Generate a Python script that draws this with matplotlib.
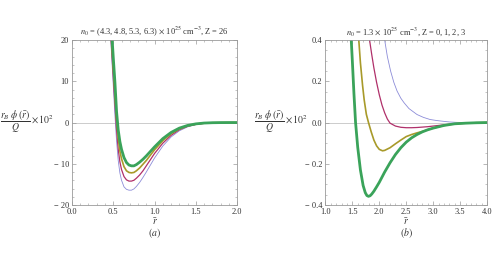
import matplotlib
matplotlib.use("Agg")
import matplotlib.pyplot as plt
from matplotlib.ticker import MultipleLocator
import numpy as np

# panel (a): n0 = 4.3, 4.8, 5.3, 6.3 (x 10^25 cm^-3), Z = 26
r_a = [0.47, 0.48, 0.49, 0.50, 0.52, 0.54, 0.56, 0.58, 0.60, 0.63, 0.66, 0.69,
       0.72, 0.75, 0.78, 0.82, 0.86, 0.90, 0.95, 1.0, 1.1, 1.2, 1.3, 1.4, 1.5,
       1.6, 1.7, 1.8, 1.9, 2.0]
phi_a_blue = [20, 16.3, 12.7, 9.0, 1.8, -4.5, -9.2, -12.2, -14.0, -15.6, -16.2, -16.4,
              -16.4, -16.1, -15.5, -14.5, -13.3, -12.0, -10.3, -8.6, -5.7, -3.5, -2.0, -1.05, -0.5,
              -0.2, -0.07, -0.02, 0, 0]
phi_a_red = [21.5, 18, 14.6, 11.2, 4.5, -1.8, -6.5, -9.5, -11.4, -13.1, -13.9, -14.2,
             -14.2, -14.0, -13.5, -12.7, -11.7, -10.5, -9.0, -7.5, -5.0, -3.1, -1.75, -0.9, -0.43,
             -0.17, -0.06, -0.02, 0, 0]
phi_a_yellow = [23, 19.8, 16.5, 13.3, 7.0, 0.8, -3.8, -6.9, -8.8, -10.7, -11.7, -12.1,
                -12.2, -12.1, -11.7, -11.0, -10.1, -9.2, -7.9, -6.6, -4.4, -2.7, -1.55, -0.8, -0.38,
                -0.15, -0.05, -0.015, 0, 0]
phi_a_green = [26, 22.5, 19, 15.8, 9.8, 2.6, -1.8, -4.6, -6.5, -8.5, -9.7, -10.3,
               -10.5, -10.5, -10.2, -9.6, -8.9, -8.1, -7.0, -5.9, -3.9, -2.4, -1.35, -0.7, -0.32,
               -0.12, -0.04, -0.01, 0, 0]

# panel (b): n0 = 1.3 x 10^25 cm^-3, Z = 0, 1, 2, 3
r_b_blue = [2.08, 2.10, 2.15, 2.21, 2.27, 2.33, 2.40, 2.46, 2.55, 2.70, 2.82, 2.94,
            3.06, 3.19, 3.30, 3.43, 3.6, 3.8, 4.0]
phi_b_blue = [0.46, 0.40, 0.32, 0.25, 0.195, 0.153, 0.118, 0.096, 0.068, 0.039, 0.025, 0.015,
              0.010, 0.006, 0.003, 0.001, 0, 0, 0]
r_b_red = [1.80, 1.82, 1.86, 1.90, 1.95, 2.0, 2.05, 2.1, 2.15, 2.2, 2.3, 2.4, 2.5, 2.6,
           2.7, 2.8, 2.9, 3.0, 3.2, 3.4, 3.6, 3.8, 4.0]
phi_b_red = [0.48, 0.40, 0.33, 0.265, 0.195, 0.135, 0.085, 0.047, 0.017, -0.003, -0.017, -0.023,
             -0.025, -0.025, -0.024, -0.022, -0.020, -0.017, -0.011, -0.006, -0.003, -0.001, 0]
r_b_yellow = [1.60, 1.62, 1.65, 1.69, 1.72, 1.76, 1.80, 1.85, 1.90, 1.95, 2.0, 2.06, 2.1,
              2.2, 2.3, 2.4, 2.5, 2.6, 2.7, 2.8, 2.9, 3.0, 3.2, 3.4, 3.6, 3.8, 4.0]
phi_b_yellow = [0.48, 0.40, 0.29, 0.18, 0.11, 0.04, 0.0, -0.045, -0.085, -0.113, -0.13, -0.137, -0.135,
                -0.122, -0.103, -0.085, -0.068, -0.058, -0.05, -0.043, -0.035, -0.027, -0.014, -0.006,
                -0.003, -0.001, 0]
r_b_green = [1.45, 1.48, 1.50, 1.53, 1.56, 1.60, 1.65, 1.70, 1.74, 1.77, 1.80, 1.83, 1.86, 1.90, 1.95, 2.0,
             2.1, 2.2, 2.3, 2.4, 2.5, 2.6, 2.7, 2.8, 2.9, 3.0, 3.2, 3.4, 3.6, 3.8, 4.0]
phi_b_green = [0.48, 0.40, 0.30, 0.14, 0.0, -0.12, -0.23, -0.305, -0.340, -0.354, -0.358, -0.355, -0.347,
               -0.333, -0.312, -0.29, -0.24, -0.195, -0.155, -0.122, -0.095, -0.074, -0.058, -0.045,
               -0.035, -0.027, -0.014, -0.006, -0.003, -0.001, 0]

c_blue = '#8c8cd8'
c_red = '#b0306a'
c_yellow = '#a89a2a'
c_green = '#3aa35a'

plt.rcParams['font.family'] = ['Liberation Serif', 'DejaVu Serif']
plt.rcParams['mathtext.fontset'] = 'stix'

fig = plt.figure(figsize=(4.93, 2.63), dpi=100)
ax1 = fig.add_axes([0.146, 0.2205, 0.335, 0.627])
ax2 = fig.add_axes([0.660, 0.2205, 0.328, 0.627])

ylabel = r'$\dfrac{r_B\ \phi\,(\bar{r})}{Q}\times 10^2$'

def style(ax):
    for s in ax.spines.values():
        s.set_color('#9a9a9a')
        s.set_linewidth(0.6)
    ax.tick_params(which='both', direction='in', top=True, right=True,
                   color='#9a9a9a', labelsize=6, labelcolor='#333333', pad=2)
    ax.tick_params(which='major', length=3, width=0.5)
    ax.tick_params(which='minor', length=1.5, width=0.4)
    ax.axhline(0, color='#cccccc', lw=0.7, zorder=0)

# (a)
ax1.plot(r_a, phi_a_blue, color=c_blue, lw=0.6)
ax1.plot(r_a, phi_a_red, color=c_red, lw=0.9)
ax1.plot(r_a, phi_a_yellow, color=c_yellow, lw=1.2)
ax1.plot(r_a, phi_a_green, color=c_green, lw=2.0)
ax1.set_xlim(0, 2)
ax1.set_ylim(-20, 20)
ax1.xaxis.set_minor_locator(MultipleLocator(0.1))
ax1.yaxis.set_minor_locator(MultipleLocator(2))
ax1.set_xticks([0, 0.5, 1.0, 1.5, 2.0], ['0.0', '0.5', '1.0', '1.5', '2.0'])
ax1.set_yticks([-20, -10, 0, 10, 20], ['\u2212 20', '\u2212 10', '0', '10', '20'])
style(ax1)
ax1.set_title(r'$n_0$ = (4.3, 4.8, 5.3, 6.3) $\times$ 10$^{25}$ cm$^{-3}$, Z = 26',
              fontsize=6, pad=4, color='#333333')

# (b)
ax2.plot(r_b_blue, phi_b_blue, color=c_blue, lw=0.6)
ax2.plot(r_b_red, phi_b_red, color=c_red, lw=0.9)
ax2.plot(r_b_yellow, phi_b_yellow, color=c_yellow, lw=1.2)
ax2.plot(r_b_green, phi_b_green, color=c_green, lw=2.0)
ax2.set_xlim(1, 4)
ax2.set_ylim(-0.4, 0.4)
ax2.xaxis.set_minor_locator(MultipleLocator(0.1))
ax2.yaxis.set_minor_locator(MultipleLocator(0.05))
ax2.set_xticks([1.0, 1.5, 2.0, 2.5, 3.0, 3.5, 4.0],
               ['1.0', '1.5', '2.0', '2.5', '3.0', '3.5', '4.0'])
ax2.set_yticks([-0.4, -0.2, 0, 0.2, 0.4],
               ['\u2212 0.4', '\u2212 0.2', '0.0', '0.2', '0.4'])
style(ax2)
ax2.set_title(r'$n_0$ = 1.3 $\times$ 10$^{25}$ cm$^{-3}$, Z = 0, 1, 2, 3',
              fontsize=6, pad=4, color='#333333')

# labels
fig.text(0.055, 0.535, ylabel, fontsize=7, ha='center', va='center', color='#333333')
fig.text(0.570, 0.535, ylabel, fontsize=7, ha='center', va='center', color='#333333')
for ax, tag in [(ax1, 'a'), (ax2, 'b')]:
    cx = ax.get_position().x0 + ax.get_position().width / 2
    fig.text(cx, 0.158, r'$\bar{r}$', fontsize=7, ha='center', va='center', color='#333333')
    fig.text(cx, 0.115, r'$(' + tag + ')$', fontsize=7, ha='center', va='center', color='#333333')

fig.savefig('out.png', dpi=100)
